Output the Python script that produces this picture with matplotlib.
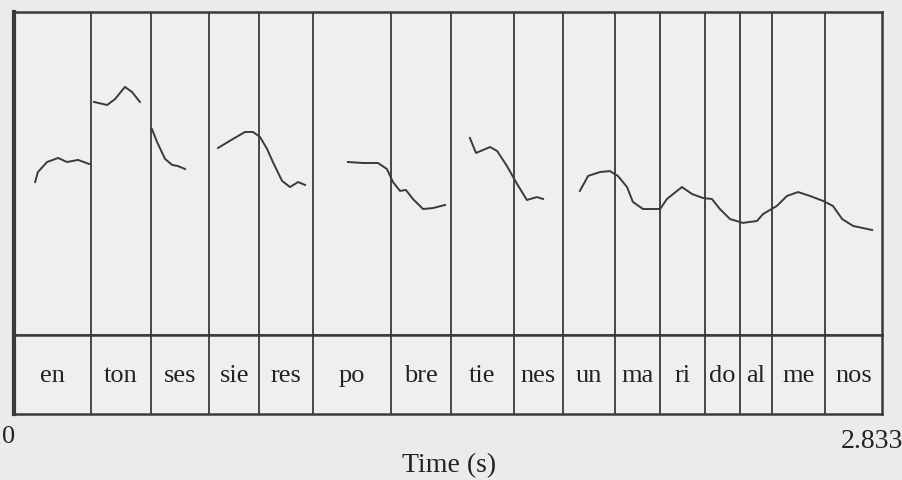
import numpy as np
import matplotlib.pyplot as plt

plt.rcParams['font.family'] = ['Liberation Serif', 'DejaVu Serif']

# syllable tier
syllables = ['en', 'ton', 'ses', 'sie', 'res', 'po', 'bre', 'tie', 'nes',
             'un', 'ma', 'ri', 'do', 'al', 'me', 'nos']
boundaries = [0.251, 0.447, 0.637, 0.800, 0.976, 1.231, 1.426, 1.632,
              1.792, 1.962, 2.109, 2.255, 2.370, 2.474, 2.647]
t_end = 2.833

# pitch contour pieces (time in s, pitch in Hz)
seg1_t = [0.069, 0.078, 0.108, 0.144, 0.173, 0.209, 0.245]
seg1_f = [194.7, 200.9, 207.1, 209.6, 207.1, 208.4, 205.9]
seg2_t = [0.261, 0.304, 0.330, 0.362, 0.385, 0.411]
seg2_f = [244.3, 242.4, 246.1, 253.6, 250.5, 244.3]
seg3_t = [0.450, 0.467, 0.493, 0.516, 0.535, 0.558]
seg3_f = [227.6, 219.5, 209.0, 205.3, 204.6, 202.8]
seg4_t = [0.666, 0.715, 0.754, 0.780, 0.803, 0.826, 0.845, 0.875, 0.901, 0.927, 0.950]
seg4_f = [215.8, 221.4, 225.7, 225.7, 222.6, 215.2, 207.1, 195.4, 191.6, 194.7, 192.9]
seg5_t = [1.090, 1.139, 1.188, 1.217, 1.237, 1.260, 1.279, 1.302, 1.335, 1.368, 1.407]
seg5_f = [207.1, 206.5, 206.5, 202.8, 194.7, 189.2, 189.8, 184.2, 178.0, 178.6, 180.5]
seg6_t = [1.488, 1.508, 1.554, 1.577, 1.609, 1.642, 1.674, 1.707, 1.727]
seg6_f = [222.0, 212.7, 216.4, 213.9, 204.6, 193.5, 183.6, 185.4, 184.2]
seg7_t = [1.847, 1.874, 1.913, 1.945, 1.971, 2.001, 2.020, 2.053, 2.109, 2.131,
          2.180, 2.213, 2.249, 2.278, 2.304, 2.337, 2.379, 2.425, 2.445, 2.490,
          2.523, 2.559, 2.598, 2.641, 2.673, 2.703, 2.739, 2.801]
seg7_f = [189.2, 198.5, 200.9, 201.5, 198.5, 191.6, 182.4, 178.0, 178.0, 184.2,
          191.6, 187.3, 184.8, 184.2, 178.0, 171.8, 169.4, 170.6, 174.9, 179.9,
          186.1, 188.5, 186.1, 183.0, 179.9, 171.8, 167.5, 165.0]

segments = [(seg1_t, seg1_f), (seg2_t, seg2_f), (seg3_t, seg3_f), (seg4_t, seg4_f),
            (seg5_t, seg5_f), (seg6_t, seg6_f), (seg7_t, seg7_f)]

ink = '#3a3a3a'
txt = '#222222'
fig = plt.figure(figsize=(9.03, 4.81), dpi=100, facecolor='#ebebeb')

ax = fig.add_axes([0.0155, 0.3015, 0.9612, 0.6715])
tier = fig.add_axes([0.0155, 0.1372, 0.9612, 0.1642])

for a in (ax, tier):
    a.set_facecolor('#efefef')
    a.set_xlim(0, t_end)
    a.set_xticks([])
    a.set_yticks([])
    for b in boundaries:
        a.axvline(b, color=ink, lw=1.3)
    for s in a.spines.values():
        s.set_color(ink)
        s.set_linewidth(1.8)
    a.spines['left'].set_linewidth(3)

ax.set_ylim(100, 300)
for t, f in segments:
    ax.plot(t, f, color=ink, lw=1.4)

tier.set_ylim(0, 1)
edges = [0] + boundaries + [t_end]
for i, syl in enumerate(syllables):
    tier.text((edges[i] + edges[i + 1]) / 2, 0.5, syl, ha='center', va='center',
              fontsize=19, color=txt)

fig.text(9 / 903, 1 - 437 / 481, '0', ha='center', va='center', fontsize=19, color=txt)
fig.text(903 / 903, 1 - 442 / 481, '2.833', ha='right', va='center', fontsize=20, color=txt)
fig.text(449 / 903, 1 - 466 / 481, 'Time (s)', ha='center', va='center', fontsize=20, color=txt)

fig.savefig('out.png', dpi=100, facecolor=fig.get_facecolor())
